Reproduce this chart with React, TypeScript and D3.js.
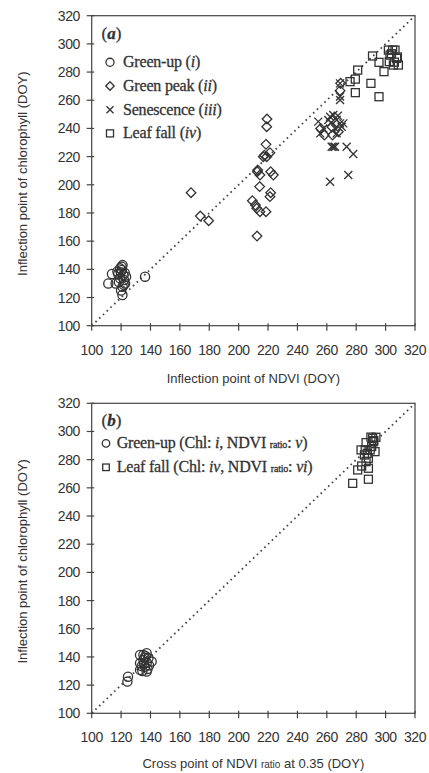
import React from "react";
import * as d3 from "d3";

// DOY pairs: [NDVI-derived date, chlorophyll inflection date]
const greenUpA: [number, number][] = [
  [111.3, 130], [113.8, 136.7], [116.3, 130], [118, 136.7], [119.3, 140.7], [120.4, 141.9],
  [121, 143], [121, 127.7], [120.9, 121.8], [122, 132.4], [123.4, 134.8], [122.7, 130],
  [119.3, 133.6], [136.3, 134.8], [117.5, 138.5], [119.8, 138], [120.5, 139.5], [121.5, 136],
  [118.5, 131], [122.5, 137.5], [120, 125], [121.8, 129],
];
const greenPeakA: [number, number][] = [
  [167.6, 194.4], [173.9, 177.8], [179.6, 174.5], [212.5, 163.6], [209.3, 188.7], [211.4, 185.6],
  [212.3, 183.3], [214.5, 180.9], [218.6, 180.9], [214.3, 198.7], [212.7, 209.3], [214.5, 206.9],
  [219.3, 246.7], [219.1, 241.2], [218.6, 228.7], [216.8, 219.9], [219.1, 219.9], [221.3, 222.8],
  [221.8, 209.3], [223.6, 206.9], [221.8, 194.4], [221.3, 191.6], [255.8, 240], [258.3, 235.3],
  [263.3, 241.2], [263.9, 235.3], [267.8, 237.7], [269, 266.8], [269.4, 272], [217.5, 221], [213, 210.5],
];
const senescenceA: [number, number][] = [
  [254.2, 244.8], [257.6, 240], [262.2, 248.3], [264.4, 249.5], [266.7, 246], [269, 243.6],
  [270.1, 241.2], [265.6, 240], [263.3, 227], [265.6, 227], [264.5, 227], [262.2, 202.2],
  [273.5, 227], [278, 221.8], [274.6, 206.9], [269, 272], [269, 260.2], [269, 262.6],
  [255.5, 236.5], [266.7, 236.5], [271.2, 243.6], [263, 244], [267.5, 249], [261, 246],
];
const leafFallA: [number, number][] = [
  [275.8, 273.2], [279.4, 275], [279.4, 265.4], [281, 281.4], [290, 272], [291.1, 291.4],
  [295.5, 262.5], [295.5, 286.9], [298.9, 280.3], [301.9, 295.6], [303, 292], [302.5, 287.4],
  [304.8, 295.6], [306.4, 295.6], [307.5, 289.7], [308.7, 285], [305.3, 285], [308, 290.7],
  [304, 293], [306, 287],
];
const greenUpB: [number, number][] = [
  [124.3, 122.5], [124.7, 126], [132.9, 141.4], [137.4, 142.6], [132.9, 135.5], [132.9, 130.8],
  [137.4, 129.6], [140.8, 136.7], [135.2, 137.9], [136.3, 133.1], [138.6, 139], [135.2, 141.4],
  [134.5, 130], [136, 139.5], [137.5, 136], [139, 134], [134, 133.5], [138, 131.5],
  [136.8, 140.5], [135.5, 135],
];
const leafFallB: [number, number][] = [
  [277.6, 263.2], [281, 272.7], [283.7, 275.5], [288.3, 266.1], [288.3, 273.9], [286.7, 278.6],
  [288.3, 281], [286.1, 286.9], [283.3, 286.9], [286.7, 292.1], [290.5, 289.3], [292.8, 285.7],
  [291.2, 295.2], [293.4, 295.9], [291.6, 292.8], [285.6, 283.3], [289.5, 287], [292, 293.5],
  [287.5, 284.5], [290, 296],
];
const ticks = [100, 120, 140, 160, 180, 200, 220, 240, 260, 280, 300, 320];
const domain: [number, number] = [100, 320];

type Shape = "circle" | "diamond" | "cross" | "square";
const INK = "#333";
const SANS = "'Liberation Sans', Arial, sans-serif";
const SERIF = "'Liberation Serif', 'Times New Roman', serif";

function Marker({ shape, x, y, s = 1 }: { shape: Shape; x: number; y: number; s?: number }) {
  const common = { fill: "none", stroke: INK, strokeWidth: 1.3 };
  if (shape === "circle") return <circle cx={x} cy={y} r={4.6 * s} {...common} />;
  if (shape === "square") {
    const h = 4 * s;
    return <rect x={x - h} y={y - h} width={2 * h} height={2 * h} {...common} />;
  }
  if (shape === "diamond") {
    const h = 4.8 * s;
    return <path d={`M${x},${y - h}L${x + h},${y}L${x},${y + h}L${x - h},${y}Z`} {...common} />;
  }
  const h = 4 * s;
  return <path d={`M${x - h},${y - h}L${x + h},${y + h}M${x - h},${y + h}L${x + h},${y - h}`} {...common} />;
}

interface Series { data: [number, number][]; shape: Shape; }
interface LegendRow { shape: Shape; label: React.ReactNode; }

function Panel({ top, tag, series, legend, legendX, legendTextX, legendY0, legendStep, legendScale, xLabel, xLabelGap }: {
  top: number; tag: string; series: Series[]; legend: LegendRow[];
  legendX: number; legendTextX: number; legendY0: number; legendStep: number; legendScale: number;
  xLabel: React.ReactNode; xLabelGap: number;
}) {
  const left = 91.7, right = 415, bottom = top + 310;
  const x = d3.scaleLinear().domain(domain).range([left, right]);
  const y = d3.scaleLinear().domain(domain).range([bottom, top]);
  return (
    <g>
      {/* 1:1 line */}
      <line x1={x(100)} y1={y(100)} x2={x(320)} y2={y(320)} stroke="#444" strokeWidth={1.8}
        strokeDasharray="1.6 3.6" />
      {series.map((s, i) => (
        <g key={i}>
          {s.data.map(([dx, dy], j) => <Marker key={j} shape={s.shape} x={x(dx)} y={y(dy)} />)}
        </g>
      ))}
      <rect x={left} y={top} width={right - left} height={bottom - top} fill="none" stroke="#444" strokeWidth={1.2} />
      {ticks.map((t) => (
        <g key={"x" + t}>
          <line x1={x(t)} x2={x(t)} y1={bottom - 2.5} y2={bottom + 5} stroke="#444" strokeWidth={1.2} />
          <text x={x(t)} y={bottom + 29} textAnchor="middle" fontFamily={SANS} fontSize={14} fill={INK}
            letterSpacing={-0.4}>{t}</text>
        </g>
      ))}
      {ticks.map((t) => (
        <g key={"y" + t}>
          <line x1={left - 5} x2={left + 2.5} y1={y(t)} y2={y(t)} stroke="#444" strokeWidth={1.2} />
          <text x={80} y={y(t) + 5} textAnchor="end" fontFamily={SANS} fontSize={14} fill={INK}
            letterSpacing={-0.4}>{t}</text>
        </g>
      ))}
      <text transform={`translate(27,${(top + bottom) / 2 + 3}) rotate(-90)`} textAnchor="middle"
        fontFamily={SANS} fontSize={13} fill={INK}>Inflection point of chlorophyll (DOY)</text>
      <text x={(left + right) / 2} y={bottom + xLabelGap} textAnchor="middle" fontFamily={SANS} fontSize={13}
        fill={INK}>{xLabel}</text>
      <text x={101.5} y={top + 23} fontFamily={SERIF} fontSize={17} fill={INK} stroke={INK} strokeWidth={0.3}>
        (<tspan fontWeight="bold" fontStyle="italic">{tag}</tspan>)
      </text>
      {legend.map((r, i) => {
        const cy = legendY0 + i * legendStep;
        return (
          <g key={i}>
            <Marker shape={r.shape} x={legendX} y={cy} s={legendScale} />
            <text x={legendTextX} y={cy + 5} fontFamily={SERIF} fontSize={16} fill={INK}
              stroke={INK} strokeWidth={0.3} letterSpacing={-0.2}>{r.label}</text>
          </g>
        );
      })}
    </g>
  );
}

const it = (s: string) => <tspan fontStyle="italic">{s}</tspan>;
const small = (s: string) => <tspan fontSize={10}>{s}</tspan>;

export default function App() {
  return (
    <svg width={429} height={773} style={{ position: "absolute", left: 0, top: 0, background: "#fff" }}>
      <Panel top={15.7} tag="a"
        series={[
          { data: greenUpA, shape: "circle" },
          { data: greenPeakA, shape: "diamond" },
          { data: senescenceA, shape: "cross" },
          { data: leafFallA, shape: "square" },
        ]}
        legend={[
          { shape: "circle", label: <>Green-up ({it("i")})</> },
          { shape: "diamond", label: <>Green peak ({it("ii")})</> },
          { shape: "cross", label: <>Senescence ({it("iii")})</> },
          { shape: "square", label: <>Leaf fall ({it("iv")})</> },
        ]}
        legendX={110} legendTextX={123} legendY0={62.3} legendStep={23.7} legendScale={0.88}
        xLabel="Inflection point of NDVI (DOY)" xLabelGap={57.5} />
      <Panel top={403.3} tag="b"
        series={[
          { data: greenUpB, shape: "circle" },
          { data: leafFallB, shape: "square" },
        ]}
        legend={[
          { shape: "circle", label: <>Green-up (Chl: {it("i")}, NDVI {small("ratio")}: {it("v")})</> },
          { shape: "square", label: <>Leaf fall (Chl: {it("iv")}, NDVI {small("ratio")}: {it("vi")})</> },
        ]}
        legendX={106} legendTextX={116.7} legendY0={443.3} legendStep={24} legendScale={0.82}
        xLabel={<>Cross point of NDVI {small("ratio")} at 0.35 (DOY)</>} xLabelGap={54.5} />
    </svg>
  );
}
